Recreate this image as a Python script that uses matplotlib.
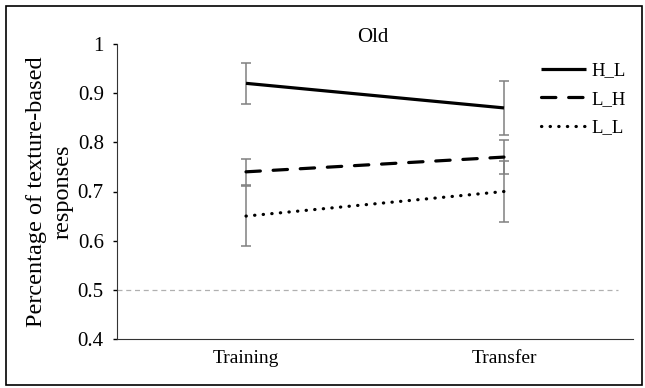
import matplotlib.pyplot as plt
from matplotlib.patches import Rectangle

# data
phases = ["Training", "Transfer"]
h_l = [0.92, 0.87]
h_l_err = [0.042, 0.055]
l_h = [0.74, 0.77]
l_h_err = [0.027, 0.035]
l_l = [0.65, 0.70]
l_l_err = [0.061, 0.063]

plt.rcParams['font.family'] = ['Liberation Serif', 'DejaVu Serif']

fig = plt.figure(figsize=(6.45, 3.88), dpi=100)
ax = fig.add_axes([117/645, 49/388, 516/645, 295/388])

x = list(range(len(phases)))
ebar = dict(ecolor="#808080", elinewidth=1.1, capsize=3.5, capthick=1.1)

ax.axhline(0.5, xmin=0, xmax=0.97, color="#b0b0b0", lw=0.9, ls=(0, (4, 3)), zorder=1)

ax.errorbar(x, h_l, yerr=h_l_err, fmt="none", **ebar, zorder=2)
ax.errorbar(x, l_h, yerr=l_h_err, fmt="none", **ebar, zorder=2)
ax.errorbar(x, l_l, yerr=l_l_err, fmt="none", **ebar, zorder=2)

ax.plot(x, h_l, color="black", lw=2.3, solid_capstyle="butt", label="H_L", zorder=3)
ax.plot(x, l_h, color="black", lw=2.3, ls=(0, (4.5, 4)), dash_capstyle="round", label="L_H", zorder=3)
ax.plot(x, l_l, color="black", lw=2.3, ls=(0, (0.1, 2.6)), dash_capstyle="round", label="L_L", zorder=3)

ax.set_xlim(-0.5, 1.5)
ax.set_ylim(0.4, 1.0)
ax.set_yticks([0.4, 0.5, 0.6, 0.7, 0.8, 0.9, 1.0])
ax.set_yticklabels(["0.4", "0.5", "0.6", "0.7", "0.8", "0.9", "1"], fontsize=15)
ax.set_xticks(x)
ax.set_xticklabels(phases, fontsize=14)
ax.tick_params(axis="x", length=0, pad=8)
ax.tick_params(axis="y", length=3, width=1, direction="out", pad=6.5)
for s in ["top", "right"]:
    ax.spines[s].set_visible(False)
ax.spines["left"].set_color("#333333")
ax.spines["bottom"].set_color("#333333")

ax.set_ylabel("Percentage of texture-based\nresponses", fontsize=17.5, labelpad=3, linespacing=1.35)
fig.text(373/645, 1 - 38/388, "Old", ha="center", va="center", fontsize=15)

ax.legend(loc="upper left", bbox_to_anchor=(541/645, 1 - 62/388), bbox_transform=fig.transFigure,
          frameon=False, fontsize=13.5, handlelength=2.4, handletextpad=0.3, labelspacing=0.62,
          borderaxespad=0, borderpad=0)

fig.patches.append(Rectangle((6/645, 3/388), 636/645, 379/388, transform=fig.transFigure,
                             fill=False, edgecolor="black", lw=1.2))

fig.savefig("out.png", dpi=100)
